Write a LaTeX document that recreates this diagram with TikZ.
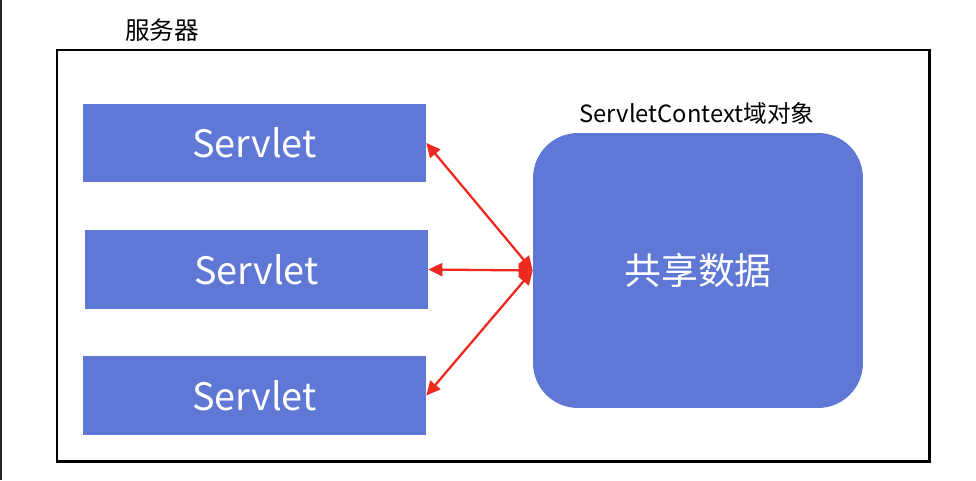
\documentclass[tikz,border=0pt]{standalone}
\usepackage{fontspec}
\setmainfont{Noto Sans CJK SC}
\usetikzlibrary{arrows.meta}
\definecolor{boxblue}{RGB}{95,119,213}
\definecolor{arrred}{RGB}{238,42,32}
\begin{document}
\begin{tikzpicture}[x=0.02cm, y=-0.02cm,
    servlet/.style={fill=boxblue, text=white, inner sep=0pt,
      minimum width=6.86cm, minimum height=1.57cm,
      font=\fontsize{21.5}{25}\selectfont},
    share/.style={fill=boxblue, text=white, rounded corners=0.9cm,
      minimum width=6.6cm, minimum height=5.5cm,
      font=\fontsize{21}{24}\selectfont},
    link/.style={{Triangle[width=7.5pt,length=8pt]}-{Triangle[width=7.5pt,length=8pt]},
      color=arrred, line width=1.3pt}]
  \useasboundingbox (0,0) rectangle (976,480);
  \fill[white] (0,0) rectangle (976,480);
  \draw[line width=1.5pt, black!85] (1,0) -- (1,480);

  % server
  \draw[line width=1.7pt] (57,50) rectangle (929,461);
  \node (server) at (162,30) {\fontsize{14}{16}\selectfont 服务器};

  % servlets
  \foreach \i/\x/\y in {1/254.5/143, 2/256.5/269.5, 3/254.5/395.5}
    \node[servlet] (s\i) at (\x,\y) {Servlet};

  % shared data
  \node[share] (data) at (698,270.5) {共享数据};
  \node (ctx) at (697,113) {\fontsize{13.5}{16}\selectfont ServletContext域对象};

  \foreach \i in {1,...,3}
    \draw[link] (data.west) -- (s\i.east);

\end{tikzpicture}
\end{document}
